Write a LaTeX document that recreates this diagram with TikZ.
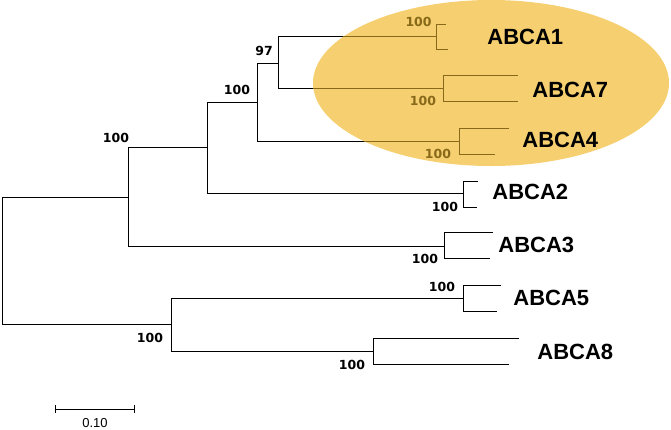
\documentclass[tikz,border=0pt]{standalone}
\usepackage{fontspec}
\setmainfont{Liberation Sans}
\newfontfamily\boot{DejaVu Sans}
\definecolor{hl}{RGB}{246,208,112}
\definecolor{br}{RGB}{135,105,25}
\begin{document}
\begin{tikzpicture}[x=1pt,y=-1pt,line width=0.8pt,
  leaf/.style={font=\bfseries\fontsize{22}{24}\selectfont,anchor=west,inner sep=0},
  bs/.style={font=\boot\bfseries\fontsize{12.5}{14}\selectfont,inner sep=0}]
\useasboundingbox (0,0) rectangle (671,429);
\def\tree{
  \draw (2,197)--(128,197) (2,197)--(2,324)--(171,324);
  \draw (128,147)--(128,246) (128,147)--(207,147) (128,246)--(444,246);
  \draw (207,102)--(207,193) (207,102)--(257,102) (207,193)--(463,193);
  \draw (257,63)--(257,141) (257,63)--(278,63) (257,141)--(459,141);
  \draw (278,36)--(278,88) (278,36)--(436,36) (278,88)--(443,88);
  \draw (446,24)--(436,24)--(436,49)--(448,49);
  \draw (518,75)--(443,75)--(443,101)--(518,101);
  \draw (509,128)--(459,128)--(459,154)--(495,154);
  \draw (478,181)--(463,181)--(463,207)--(477,207);
  \draw (493,232)--(444,232)--(444,258)--(490,258);
  \draw (171,298)--(171,351) (171,298)--(463,298) (171,351)--(373,351);
  \draw (501,285)--(463,285)--(463,311)--(497,311);
  \draw (519,338)--(373,338)--(373,364)--(509,364);
}
\tree
\node[bs] (b1) at (116,138) {100};
\node[bs] (b2) at (237,90) {100};
\node[bs] (b3) at (264,51) {97};
\node[bs] (b8) at (445,207) {100};
\node[bs] (b9) at (425,259) {100};
\node[bs] (b10) at (442,287) {100};
\node[bs] (b11) at (150,338) {100};
\node[bs] (b12) at (352,365) {100};
\fill[hl] (491,83) ellipse [x radius=178, y radius=83];
\begin{scope}
\clip (491,83) ellipse [x radius=178, y radius=83];
\begin{scope}[br]
\tree
\end{scope}
\end{scope}
\node[bs,text=br,anchor=east] (b4) at (432,22) {100};
\node[bs,text=br] (b5) at (423,101) {100};
\node[bs,text=br] (b6) at (438,154) {100};
\node[leaf] (l1) at (487,37) {ABCA1};
\node[leaf] (l7) at (532,90) {ABCA7};
\node[leaf] (l4) at (522,140) {ABCA4};
\node[leaf] (l2) at (492,192) {ABCA2};
\node[leaf] (l3) at (498,245) {ABCA3};
\node[leaf] (l5) at (513,298) {ABCA5};
\node[leaf] (l8) at (537,352) {ABCA8};
\coordinate (s1) at (55,409); \coordinate (s2) at (134,409);
\draw (s1)--(s2) ([yshift=-4]s1)--([yshift=4]s1) ([yshift=-4]s2)--([yshift=4]s2);
\node[font=\fontsize{13}{14}\selectfont,inner sep=0] (sc) at (95,423) {0.10};
\end{tikzpicture}
\end{document}
